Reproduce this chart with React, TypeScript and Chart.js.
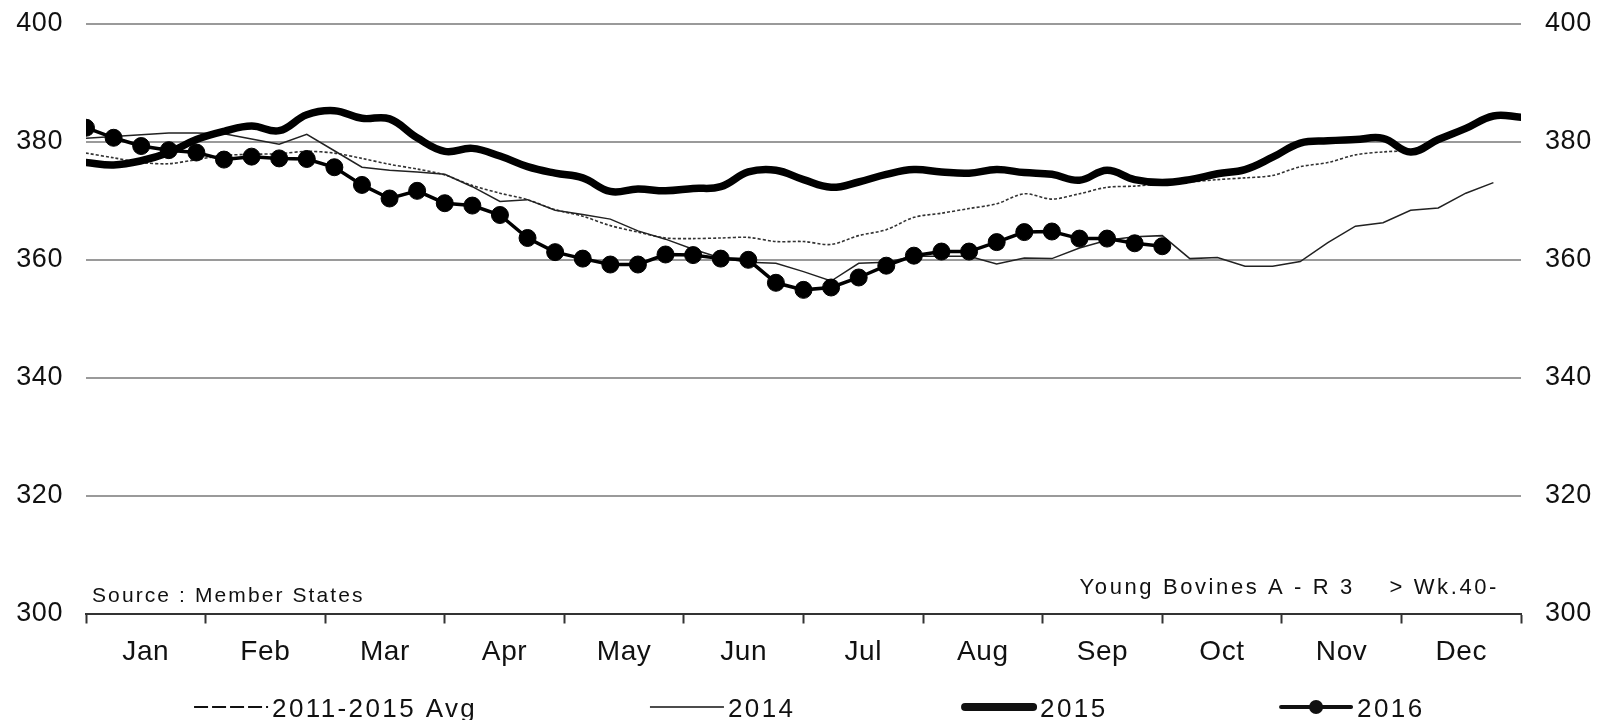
import React, { useEffect, useRef } from 'react';
import { Chart, registerables } from 'chart.js';

Chart.register(...registerables);

const MONTHS = ['Jan', 'Feb', 'Mar', 'Apr', 'May', 'Jun', 'Jul', 'Aug', 'Sep', 'Oct', 'Nov', 'Dec'];
const WEEKS_SPAN = 52;
const Y_MIN = 300;
const Y_MAX = 400;
const Y_STEP = 20;

const AVG_2011_2015 = [
  378.1, 377.3, 376.5, 376.3, 377.0, 377.7, 377.9, 378.0, 378.4, 378.1,
  377.2, 376.2, 375.4, 374.4, 372.6, 371.3, 370.2, 368.5, 367.4, 365.8,
  364.7, 363.7, 363.6, 363.7, 363.8, 363.1, 363.1, 362.6, 364.1, 365.1,
  367.2, 367.9, 368.7, 369.5, 371.2, 370.3, 371.2, 372.3, 372.5, 372.9,
  373.2, 373.6, 373.9, 374.3, 375.8, 376.5, 377.8, 378.3, 378.5,
];

const Y2014 = [
  380.6, 380.9, 381.2, 381.5, 381.5, 381.4, 380.5, 379.6, 381.3, 378.5,
  375.7, 375.2, 374.9, 374.5, 372.4, 369.9, 370.2, 368.4, 367.7, 366.9,
  364.9, 363.5, 361.8, 360.3, 359.6, 359.4, 358.0, 356.4, 359.4, 359.6,
  360.6, 360.6, 360.6, 359.3, 360.3, 360.2, 362.0, 363.3, 363.9, 364.1,
  360.2, 360.4, 358.9, 358.9, 359.7, 362.9, 365.7, 366.3, 368.4, 368.8,
  371.3, 373.1,
];

const Y2015 = [
  376.5, 376.1, 376.8, 378.2, 380.4, 381.8, 382.7, 381.9, 384.6, 385.3,
  384.0, 383.9, 380.7, 378.4, 378.9, 377.6, 375.8, 374.7, 373.9, 371.6,
  372.0, 371.7, 372.1, 372.4, 374.9, 375.2, 373.6, 372.3, 373.2, 374.5,
  375.3, 374.9, 374.7, 375.3, 374.8, 374.5, 373.5, 375.2, 373.6, 373.1,
  373.6, 374.6, 375.3, 377.4, 379.8, 380.2, 380.4, 380.6, 378.3, 380.4,
  382.3, 384.4, 384.2,
];

const Y2016 = [
  382.4, 380.7, 379.3, 378.6, 378.2, 377.0, 377.5, 377.2, 377.1, 375.7,
  372.7, 370.4, 371.7, 369.6, 369.2, 367.6, 363.7, 361.3, 360.2, 359.2,
  359.2, 360.9, 360.8, 360.2, 360.0, 356.1, 354.9, 355.3, 357.0, 359.0,
  360.7, 361.4, 361.4, 363.0, 364.7, 364.8, 363.6, 363.6, 362.8, 362.3,
];

const LEGEND_LABELS = ['2011-2015 Avg', '2014', '2015', '2016'];
const SOURCE_NOTE = 'Source : Member States';
const SERIES_NOTE = 'Young Bovines A - R 3    > Wk.40-';

const FONT = '"Liberation Sans", Arial, Helvetica, sans-serif';

const toPoints = (arr: number[]) => arr.map((y, i) => ({ x: i, y }));

// x ticks: month boundaries (tick marks) and month centres (labels)
const MONTH_W = WEEKS_SPAN / 12;
const X_TICK_VALUES: number[] = [];
const X_TICK_LABELS: string[] = [];
for (let k = 0; k <= 12; k++) {
  X_TICK_VALUES.push(k * MONTH_W);
  X_TICK_LABELS.push('');
  if (k < 12) {
    X_TICK_VALUES.push((k + 0.5) * MONTH_W);
    X_TICK_LABELS.push(MONTHS[k]);
  }
}

// legend item start positions as fractions of the plot width
const LEGEND_FRACTIONS = [0.0753, 0.393, 0.6105, 0.8314];

const spacingPlugin = {
  id: 'letterSpacing',
  beforeLayout(chart: any) {
    chart.ctx.letterSpacing = '0.6px';
  },
  beforeDraw(chart: any) {
    chart.ctx.letterSpacing = '0.6px';
  },
};

const notesPlugin = {
  id: 'notesAndLegend',
  afterDraw(chart: any) {
    const ctx = chart.ctx as CanvasRenderingContext2D;
    const ca = chart.chartArea;
    ctx.save();
    ctx.fillStyle = '#111';
    ctx.textBaseline = 'alphabetic';
    (ctx as any).letterSpacing = '2.1px';
    ctx.font = `21px ${FONT}`;
    ctx.textAlign = 'left';
    ctx.fillText(SOURCE_NOTE, ca.left + 6, ca.bottom - 11.5);
    (ctx as any).letterSpacing = '2.6px';
    ctx.font = `22px ${FONT}`;
    ctx.textAlign = 'right';
    ctx.fillText(SERIES_NOTE, ca.right - 22, ca.bottom - 20);

    ctx.textAlign = 'left';
    (ctx as any).letterSpacing = '2.4px';
    ctx.font = `26px ${FONT}`;
    const sampleW = 74;
    const gapText = 4;
    const yLine = ca.bottom + 93.5;
    const yBase = ca.bottom + 103;
    const w = ca.right - ca.left;
    LEGEND_LABELS.forEach((label, i) => {
      const x = ca.left + LEGEND_FRACTIONS[i] * w;
      ctx.save();
      ctx.strokeStyle = '#111';
      ctx.fillStyle = '#111';
      ctx.beginPath();
      if (i === 0) {
        ctx.lineWidth = 2;
        ctx.setLineDash([14, 4]);
        ctx.moveTo(x, yLine);
        ctx.lineTo(x + sampleW, yLine);
        ctx.stroke();
      } else if (i === 1) {
        ctx.lineWidth = 1.6;
        ctx.moveTo(x, yLine);
        ctx.lineTo(x + sampleW, yLine);
        ctx.stroke();
      } else if (i === 2) {
        ctx.lineWidth = 8;
        ctx.lineCap = 'round';
        ctx.moveTo(x + 3, yLine);
        ctx.lineTo(x + sampleW - 3, yLine);
        ctx.stroke();
      } else {
        ctx.lineWidth = 4;
        ctx.lineCap = 'round';
        ctx.moveTo(x + 2, yLine);
        ctx.lineTo(x + sampleW - 2, yLine);
        ctx.stroke();
        ctx.beginPath();
        ctx.arc(x + sampleW / 2, yLine, 7, 0, Math.PI * 2);
        ctx.fill();
      }
      ctx.restore();
      ctx.fillText(label, x + sampleW + gapText, yBase);
    });
    ctx.restore();
  },
};

export default function App() {
  const ref = useRef<HTMLCanvasElement | null>(null);

  useEffect(() => {
    if (!ref.current) return;
    const chart = new Chart(ref.current, {
      type: 'line',
      data: {
        datasets: [
          {
            label: '2016',
            data: toPoints(Y2016),
            borderColor: '#000',
            backgroundColor: '#000',
            borderWidth: 3.5,
            pointRadius: 8.5,
            pointBorderWidth: 1,
            pointBackgroundColor: '#000',
            pointBorderColor: '#000',
            tension: 0,
            order: 0,
          },
          {
            label: '2015',
            data: toPoints(Y2015),
            borderColor: '#000',
            borderWidth: 7.5,
            pointRadius: 0,
            tension: 0.4,
            borderJoinStyle: 'round',
            borderCapStyle: 'round',
            order: 1,
          },
          {
            label: '2014',
            data: toPoints(Y2014),
            borderColor: '#222',
            borderWidth: 1.5,
            pointRadius: 0,
            tension: 0,
            order: 2,
          },
          {
            label: '2011-2015 Avg',
            data: toPoints(AVG_2011_2015),
            borderColor: '#333',
            borderWidth: 1.6,
            borderDash: [3, 2],
            pointRadius: 0,
            tension: 0.3,
            order: 3,
          },
        ],
      },
      options: {
        animation: false,
        responsive: true,
        maintainAspectRatio: false,
        parsing: true,
        layout: { padding: { top: 16, bottom: 40.5, left: 0, right: 0 } },
        plugins: {
          legend: { display: false },
          tooltip: { enabled: false },
        },
        scales: {
          x: {
            type: 'linear',
            min: 0,
            max: WEEKS_SPAN,
            afterBuildTicks: (scale: any) => {
              scale.ticks = X_TICK_VALUES.map((v) => ({ value: v }));
            },
            afterFit: (scale: any) => {
              scale.height = 66;
              scale.paddingLeft = 0;
              scale.paddingRight = 0;
            },
            ticks: {
              autoSkip: false,
              maxRotation: 0,
              minRotation: 0,
              padding: 12,
              color: '#111',
              font: { family: FONT, size: 28 },
              callback: (_v: any, index: number) => X_TICK_LABELS[index] ?? '',
            },
            grid: {
              drawOnChartArea: false,
              drawTicks: true,
              tickLength: 10,
              tickWidth: 2,
              tickColor: (c: any) => (c.index % 2 === 0 ? '#333' : 'rgba(0,0,0,0)'),
            },
            border: { display: true, color: '#333', width: 2 },
          },
          y: {
            type: 'linear',
            position: 'left',
            min: Y_MIN,
            max: Y_MAX,
            afterFit: (scale: any) => {
              scale.width = 78;
              scale.paddingTop = 0;
              scale.paddingBottom = 0;
            },
            ticks: {
              stepSize: Y_STEP,
              padding: 23,
              color: '#111',
              font: { family: FONT, size: 27 },
            },
            grid: {
              drawTicks: false,
              lineWidth: 2,
              color: (c: any) => (c.tick && c.tick.value === Y_MIN ? 'rgba(0,0,0,0)' : '#9a9a9a'),
            },
            border: { display: false },
          },
          y1: {
            type: 'linear',
            position: 'right',
            min: Y_MIN,
            max: Y_MAX,
            afterFit: (scale: any) => {
              scale.width = 75;
              scale.paddingTop = 0;
              scale.paddingBottom = 0;
            },
            ticks: {
              stepSize: Y_STEP,
              padding: 24,
              color: '#111',
              font: { family: FONT, size: 27 },
            },
            grid: { display: false, drawTicks: false },
            border: { display: false },
          },
        },
      } as any,
      plugins: [spacingPlugin, notesPlugin],
    });
    return () => chart.destroy();
  }, []);

  return (
    <div style={{ position: 'relative', width: '100%', height: '712px' }}>
      <canvas ref={ref} />
    </div>
  );
}
